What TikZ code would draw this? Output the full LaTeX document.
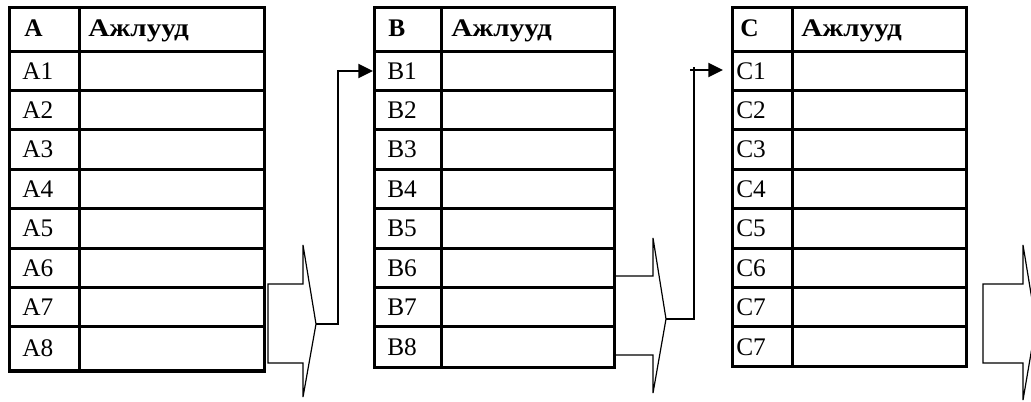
\documentclass[tikz,border=0pt]{standalone}
\usepackage{fontspec}
\usepackage{graphicx}
\setmainfont{Liberation Serif}
\usetikzlibrary{arrows.meta}
\newcommand{\hword}{\scalebox{1.15}[1]{Ажлууд}}
\begin{document}
\begin{tikzpicture}[x=0.75pt,y=-0.75pt,
  tbl/.style={line width=2.25pt},
  cell/.style={anchor=base west, inner sep=0pt, font=\fontsize{19}{21}\selectfont},
  hcell/.style={anchor=base west, inner sep=0pt, font=\fontsize{19}{21}\selectfont\bfseries},
  blk/.style={line width=0.9pt, line join=miter},
  conn/.style={line width=1.5pt},
  tipped/.style={-{Triangle[length=11pt,width=10.5pt]}}]
\useasboundingbox (0,0) rectangle (1031,402);
\clip (0,0) rectangle (1031,402);

% ---------- Table A ----------
\draw[tbl] (9,8) rectangle (264,371);
\draw[tbl] (79,8) -- (79,371);
\foreach \y in {52,91,130,170,209,249,288,327} \draw[tbl] (9,\y) -- (264,\y);
\node[hcell] (Ah) at (24,37) {A};
\node[hcell] (Aw) at (88,37) {\hword};
\foreach \t/\b/\lab in {52/91/A1,91/130/A2,130/170/A3,170/209/A4,209/249/A5,249/288/A6,288/327/A7,327/371/A8}
  \node[cell] (\lab) at (22,{(\t+\b)/2+8}) {\lab};

% ---------- Table B ----------
\draw[tbl] (374,8) rectangle (614,368);
\draw[tbl] (441,8) -- (441,368);
\foreach \y in {52,91,130,170,209,249,288,327} \draw[tbl] (374,\y) -- (614,\y);
\node[hcell] (Bh) at (388,37) {B};
\node[hcell] (Bw) at (451,37) {\hword};
\foreach \t/\b/\lab in {52/91/B1,91/130/B2,130/170/B3,170/209/B4,209/249/B5,249/288/B6,288/327/B7,327/368/B8}
  \node[cell] (\lab) at (387,{(\t+\b)/2+8}) {\lab};

% ---------- Table C ----------
\draw[tbl] (732,8) rectangle (966,367);
\draw[tbl] (792,8) -- (792,367);
\foreach \y in {52,91,130,170,209,249,288,327} \draw[tbl] (732,\y) -- (966,\y);
\node[hcell] (Ch) at (740,37) {C};
\node[hcell] (Cw) at (801,37) {\hword};
\foreach \t/\b/\lab/\nm in {52/91/C1/C1,91/130/C2/C2,130/170/C3/C3,170/209/C4/C4,209/249/C5/C5,249/288/C6/C6,288/327/C7/C7a,327/367/C7/C7b}
  \node[cell] (\nm) at (736,{(\t+\b)/2+8}) {\lab};

% ---------- Block arrows ----------
\draw[blk] (268,284) -- (303,284) -- (303,245) -- (316,324) coordinate (pA) -- (303,397) -- (303,363) -- (268,363) -- cycle;
\draw[blk] (615,276) -- (653,276) -- (653,238) -- (666,319) coordinate (pB) -- (653,393) -- (653,355) -- (615,355);
\draw[blk] (983,284) -- (1023,284) -- (1023,245) -- (1036,324) coordinate (pC) -- (1023,400) -- (1023,363) -- (983,363) -- cycle;

% ---------- Connectors ----------
\coordinate (B1w) at (373,71);
\coordinate (C1w) at (723,70);
\coordinate (Bknee) at (338,324);
\coordinate (Cknee) at (694,319);
\draw[conn,tipped] (pA) -- (Bknee) |- (B1w);
\draw[conn] (pB) -- (Cknee) -- (694,67);
\draw[conn,tipped] (690,70) -- (C1w);
\end{tikzpicture}
\end{document}
